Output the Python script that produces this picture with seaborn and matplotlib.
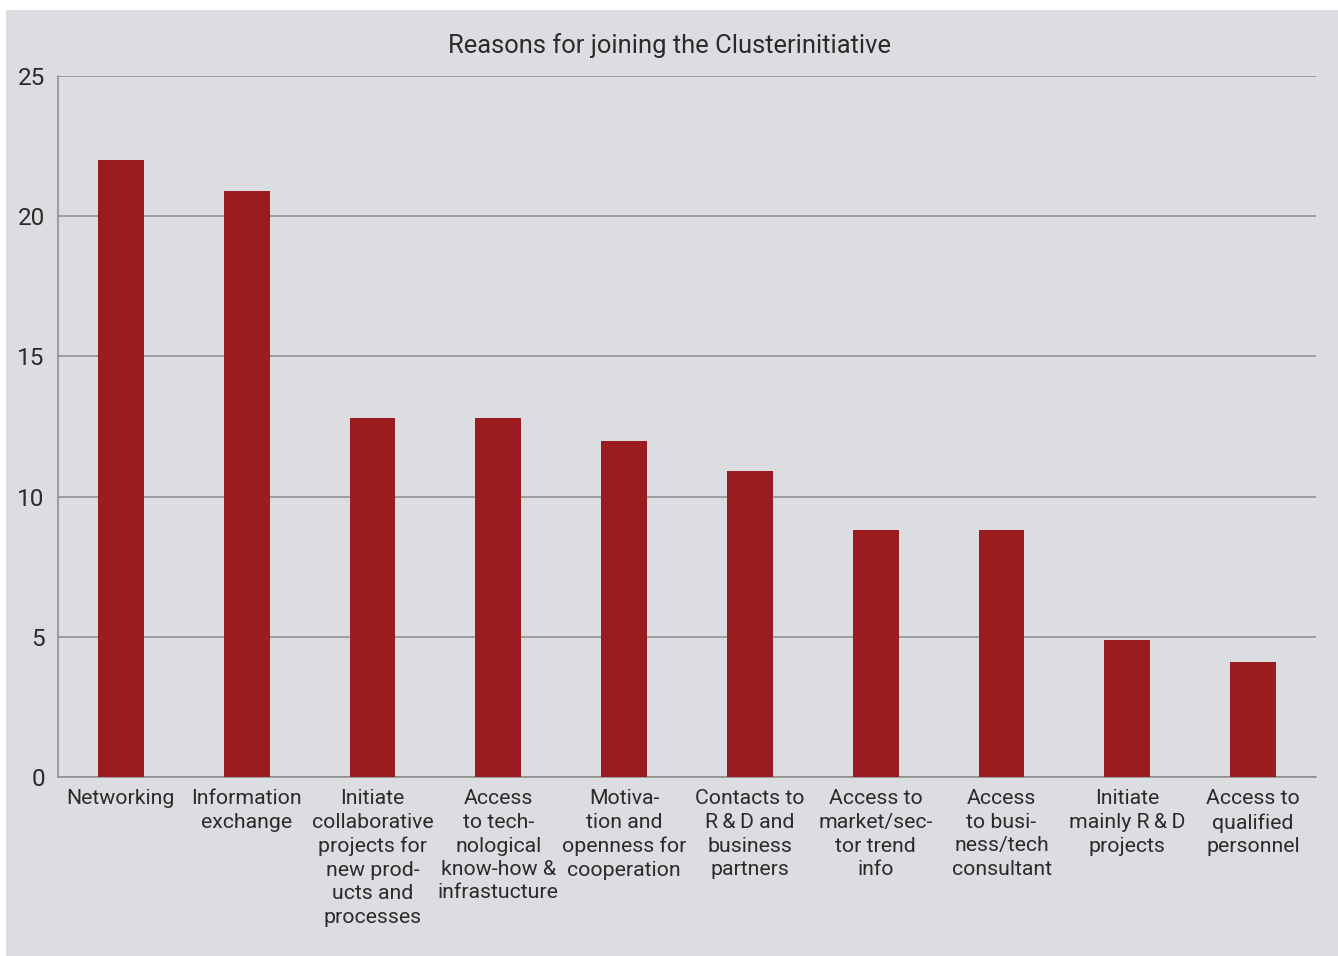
"""
 Title:         Clusterinitiative bar chart
 Description:   Reasons for joining the Clusterinitiative
"""

# Libraries
import matplotlib
matplotlib.use("Agg")
import matplotlib.pyplot as plt
import matplotlib.transforms as mtransforms
from matplotlib.patches import Rectangle
import pandas as pd
import seaborn as sns

# Data
reasons = [
    "Networking",
    "Information\nexchange",
    "Initiate\ncollaborative\nprojects for\nnew prod-\nucts and\nprocesses",
    "Access\nto tech-\nnological\nknow-how &\ninfrastucture",
    "Motiva-\ntion and\nopenness for\ncooperation",
    "Contacts to\nR\u2009&\u2009D and\nbusiness\npartners",
    "Access to\nmarket/sec-\ntor trend\ninfo",
    "Access\nto busi-\nness/tech\nconsultant",
    "Initiate\nmainly R\u2009&\u2009D\nprojects",
    "Access to\nqualified\npersonnel",
]
counts = [22.0, 20.9, 12.8, 12.8, 12.0, 10.9, 8.8, 8.8, 4.9, 4.1]
y_ticks = [0, 5, 10, 15, 20, 25]
title = "Reasons for joining the Clusterinitiative"

# Colours
panel_colour = "#dcdde0"
bar_colour = "#9a1c21"
line_colour = "#8c8c8c"
text_colour = "#2b2b2b"

# Style
sns.set_style("white")
plt.rcParams["font.family"] = ["Roboto", "DejaVu Sans"]

df = pd.DataFrame({"reason": reasons, "count": counts})

fig = plt.figure(figsize=(13.38, 9.56), dpi=100, facecolor="white")

# Grey panel behind everything
fig.patches.append(Rectangle((6/1338, 0), 1 - 6/1338, 1 - 10/956, transform=fig.transFigure,
                             facecolor=panel_colour, edgecolor="none", zorder=-10))

axis = fig.add_axes([58/1338, 1 - 777/956, (1316 - 58)/1338, (777 - 76)/956])
axis.set_facecolor(panel_colour)

# Bars
sns.barplot(data=df, x="reason", y="count", ax=axis, color=bar_colour, width=0.365,
            saturation=1, linewidth=0, zorder=3)

# Axes formatting
axis.set_xlim(-0.5, len(reasons) - 0.5)
axis.set_ylim(0, 25)
axis.set_yticks(y_ticks)
axis.set_yticklabels([str(t) for t in y_ticks])
axis.set_xlabel("")
axis.set_ylabel("")
axis.yaxis.grid(True, color=line_colour, linewidth=1.1, zorder=1)
axis.set_axisbelow(True)
for side in ["top", "right"]:
    axis.spines[side].set_visible(False)
for side in ["left", "bottom"]:
    axis.spines[side].set_color(line_colour)
    axis.spines[side].set_linewidth(1.1)
axis.tick_params(axis="y", length=0, pad=9.5, labelsize=17.5, labelcolor=text_colour)
axis.tick_params(axis="x", length=0)

# Category labels drawn as text so the line spacing can be set
label_positions = axis.get_xticks()
axis.set_xticklabels([""] * len(label_positions))
label_transform = mtransforms.blended_transform_factory(axis.transData, axis.transAxes) + \
    mtransforms.ScaledTranslation(0, -9/72, fig.dpi_scale_trans)
for pos, reason in zip(label_positions, reasons):
    axis.text(pos, 0, reason, transform=label_transform, ha="center", va="top",
              fontsize=15.3, color=text_colour, linespacing=1.3)

# Title
fig.text(0.5, 1 - 46/956, title, ha="center", va="center", fontsize=18.4, color=text_colour)

plt.savefig("out.png", dpi=100, facecolor="white")
